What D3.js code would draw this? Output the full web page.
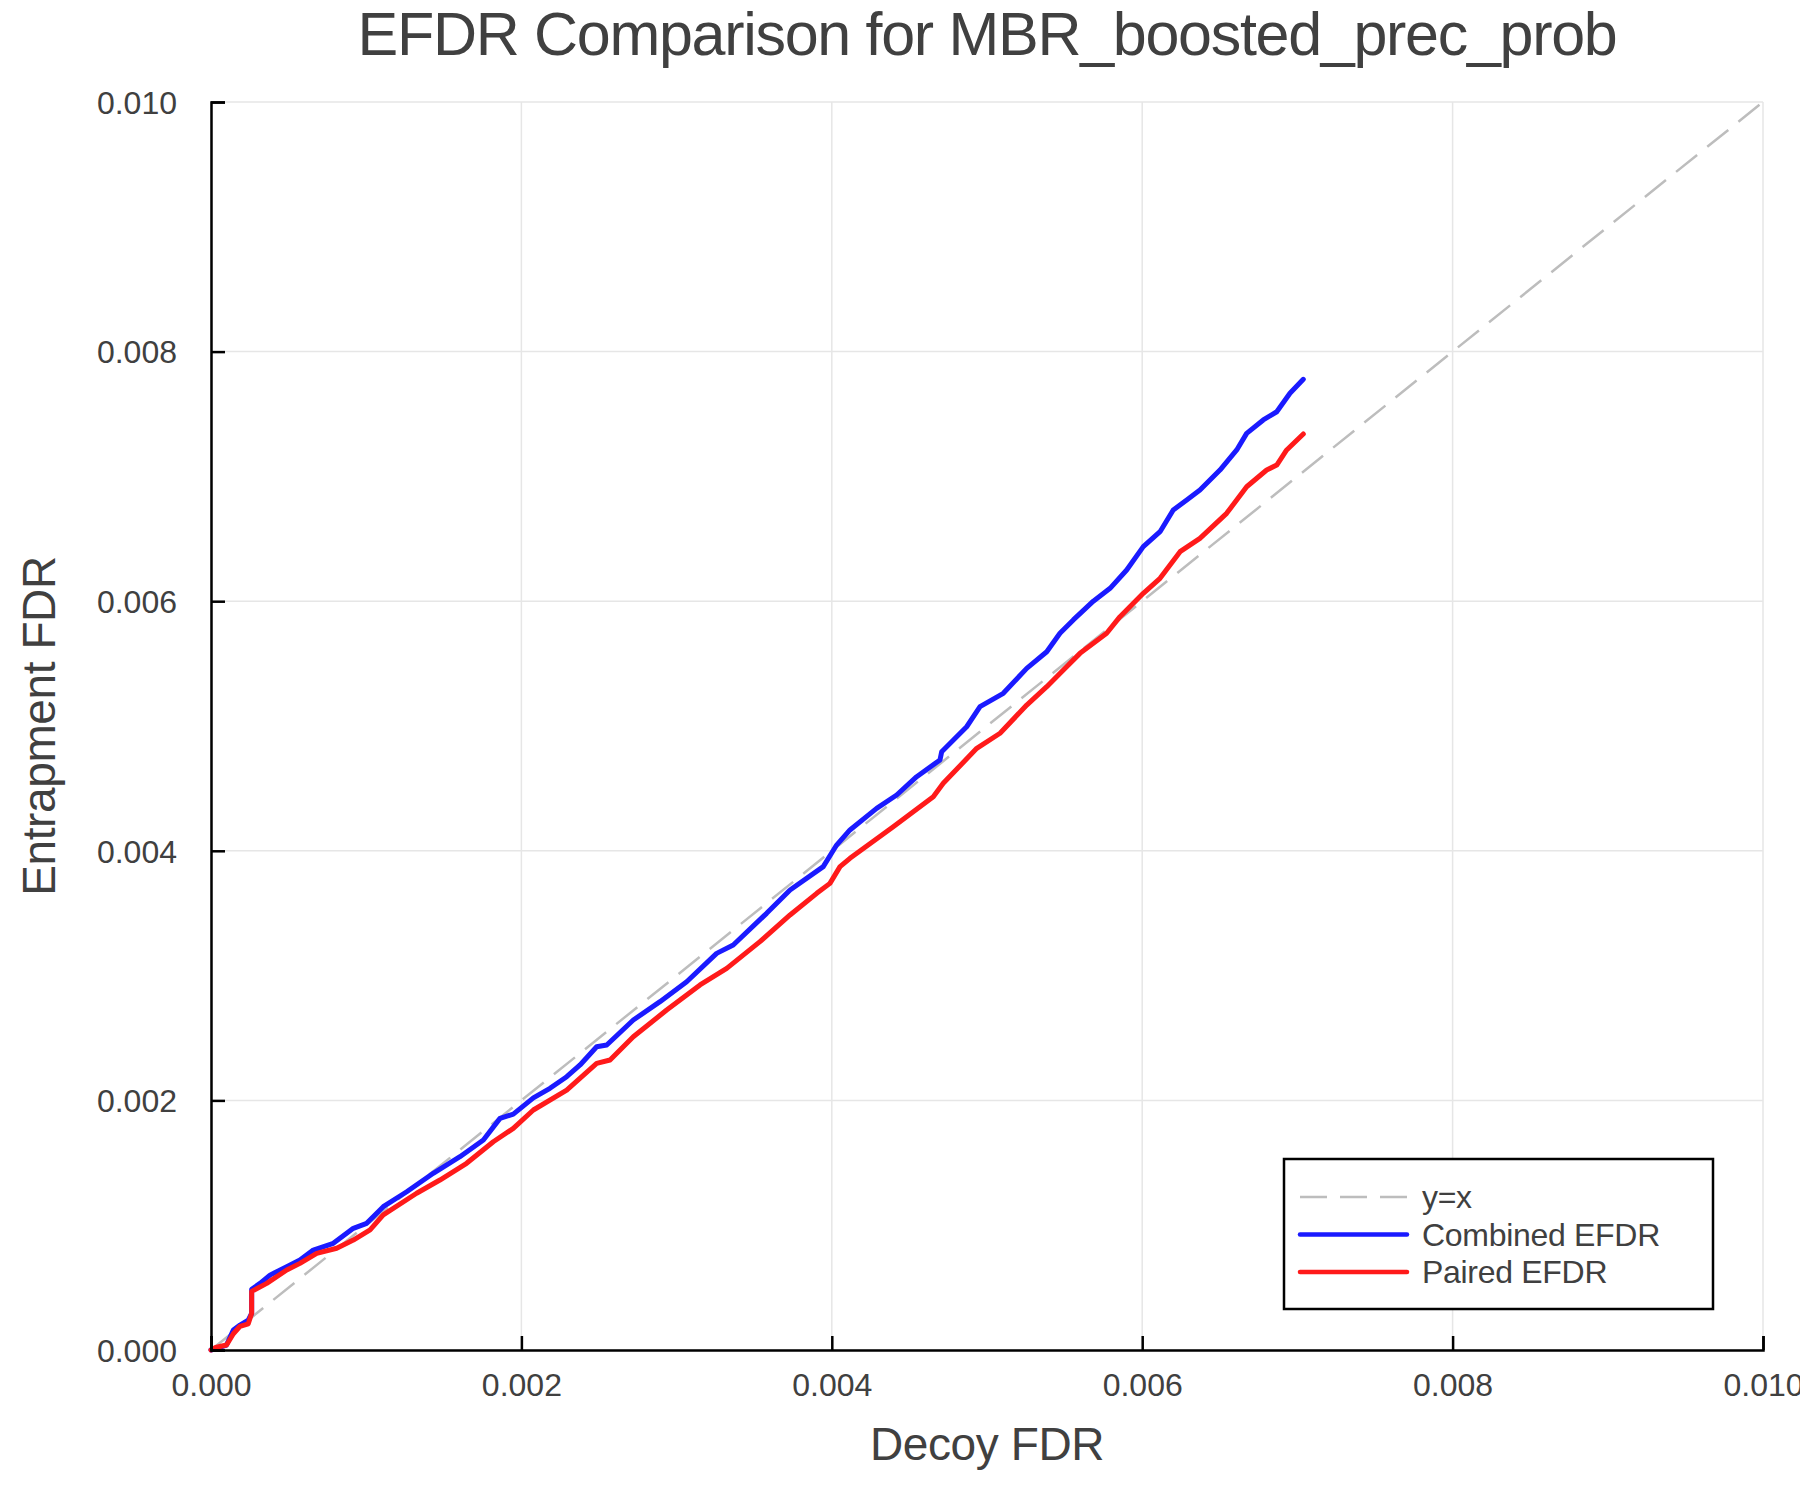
<!DOCTYPE html>
<html>
<head>
<meta charset="utf-8">
<script src="https://cdn.jsdelivr.net/npm/d3@7"></script>
<style>
  body { margin: 0; background: #fff; }
  text { font-family: 'Liberation Sans', Arial, Helvetica, sans-serif; fill: #404040; }
</style>
</head>
<body>
<div id="chart"></div>
<script>
// tick values for both axes
const ticks = [0, 0.002, 0.004, 0.006, 0.008, 0.010]

// Combined EFDR (decoy FDR, entrapment FDR)
const combinedX = [0, 0.000100, 0.000144, 0.000187, 0.000240, 0.000262, 0.000262, 0.000316, 0.000380, 0.000488,
  0.000573, 0.000659, 0.000788, 0.000917, 0.001003, 0.001110, 0.001261, 0.001432, 0.001604, 0.001755,
  0.001862, 0.001948, 0.002077, 0.002184, 0.002292, 0.002378, 0.002485, 0.002550, 0.002721, 0.002893,
  0.003065, 0.003258, 0.003365, 0.003580, 0.003731, 0.003945, 0.004031, 0.004117, 0.004289, 0.004418,
  0.004547, 0.004697, 0.004708, 0.004869, 0.004955, 0.005105, 0.005256, 0.005385, 0.005470, 0.005556,
  0.005685, 0.005793, 0.005900, 0.006007, 0.006115, 0.006200, 0.006287, 0.006372, 0.006501, 0.006609,
  0.006673, 0.006780, 0.006867, 0.006952, 0.007038]
const combinedY = [0, 0.000040, 0.000160, 0.000200, 0.000240, 0.000294, 0.000486, 0.000534, 0.000600, 0.000668,
  0.000721, 0.000801, 0.000855, 0.000975, 0.001015, 0.001148, 0.001268, 0.001416, 0.001549, 0.001683,
  0.001856, 0.001890, 0.002020, 0.002097, 0.002190, 0.002284, 0.002430, 0.002444, 0.002644, 0.002791,
  0.002951, 0.003178, 0.003245, 0.003499, 0.003686, 0.003873, 0.004046, 0.004167, 0.004340, 0.004447,
  0.004594, 0.004728, 0.004794, 0.004994, 0.005155, 0.005262, 0.005462, 0.005595, 0.005743, 0.005850,
  0.006000, 0.006103, 0.006250, 0.006437, 0.006557, 0.006731, 0.006811, 0.006891, 0.007051, 0.007212,
  0.007345, 0.007452, 0.007518, 0.007666, 0.007778]

// Paired EFDR
const pairedX = [0, 0.000030, 0.000100, 0.000144, 0.000187, 0.000240, 0.000262, 0.000262, 0.000359, 0.000488,
  0.000573, 0.000681, 0.000810, 0.000917, 0.001025, 0.001110, 0.001325, 0.001475, 0.001647, 0.001819,
  0.001948, 0.002077, 0.002292, 0.002485, 0.002571, 0.002721, 0.002936, 0.003151, 0.003323, 0.003537,
  0.003731, 0.003903, 0.003988, 0.004053, 0.004117, 0.004396, 0.004654, 0.004718, 0.004934, 0.005084,
  0.005256, 0.005385, 0.005492, 0.005599, 0.005771, 0.005857, 0.006007, 0.006115, 0.006244, 0.006372,
  0.006544, 0.006673, 0.006802, 0.006867, 0.006931, 0.007038]
const pairedY = [0, 0.000020, 0.000040, 0.000130, 0.000190, 0.000210, 0.000294, 0.000470, 0.000534, 0.000641,
  0.000694, 0.000774, 0.000815, 0.000881, 0.000962, 0.001082, 0.001256, 0.001362, 0.001496, 0.001669,
  0.001776, 0.001923, 0.002083, 0.002297, 0.002324, 0.002510, 0.002724, 0.002925, 0.003058, 0.003272,
  0.003486, 0.003659, 0.003739, 0.003873, 0.003940, 0.004193, 0.004434, 0.004541, 0.004821, 0.004942,
  0.005168, 0.005315, 0.005449, 0.005582, 0.005743, 0.005876, 0.006063, 0.006183, 0.006397, 0.006504,
  0.006704, 0.006917, 0.007051, 0.007091, 0.007212, 0.007340]

const series = [
  { name: 'Combined EFDR', color: '#1a1aff', xs: combinedX, ys: combinedY },
  { name: 'Paired EFDR', color: '#ff1a1a', xs: pairedX, ys: pairedY }
]

const W = 1800
const H = 1500
const margin = { top: 102, right: 37, bottom: 150, left: 211 }
const width = W - margin.left - margin.right
const height = H - margin.top - margin.bottom

const svg = d3.select('#chart')
  .append('svg')
  .attr('width', W)
  .attr('height', H)

const g = svg.append('g')
  .attr('transform', `translate(${margin.left}, ${margin.top})`)

const x = d3.scaleLinear().domain([0, 0.010]).range([0, width])
const y = d3.scaleLinear().domain([0, 0.010]).range([height, 0])

// grid lines
g.append('g')
  .selectAll('line')
  .data(ticks)
  .join('line')
  .attr('x1', d => x(d)).attr('x2', d => x(d))
  .attr('y1', 0).attr('y2', height)
  .attr('stroke', '#e6e6e6').attr('stroke-width', 1.5)
g.append('g')
  .selectAll('line')
  .data(ticks)
  .join('line')
  .attr('x1', 0).attr('x2', width)
  .attr('y1', d => y(d)).attr('y2', d => y(d))
  .attr('stroke', '#e6e6e6').attr('stroke-width', 1.5)

// y = x reference
g.append('line')
  .attr('x1', x(0)).attr('y1', y(0))
  .attr('x2', x(0.010)).attr('y2', y(0.010))
  .attr('stroke', '#bdbdbd')
  .attr('stroke-width', 2.5)
  .attr('stroke-dasharray', '27 13')

const line = d3.line()
  .x(d => x(d[0]))
  .y(d => y(d[1]))

series.forEach(s => {
  g.append('path')
    .datum(s.xs.map((v, i) => [v, s.ys[i]]))
    .attr('d', line)
    .attr('fill', 'none')
    .attr('stroke', s.color)
    .attr('stroke-width', 5)
    .attr('stroke-linejoin', 'round')
    .attr('stroke-linecap', 'round')
})

// axes: inward ticks, labels at the outside
const xAxis = g.append('g')
  .attr('transform', `translate(0, ${height})`)
  .call(d3.axisBottom(x).tickValues(ticks).tickSize(-14).tickPadding(0).tickFormat(d3.format('.3f')))
xAxis.select('.domain').attr('stroke', '#000').attr('stroke-width', 2.5)
xAxis.selectAll('.tick line').attr('stroke', '#000').attr('stroke-width', 2.5)
xAxis.selectAll('.tick text')
  .attr('y', 46)
  .attr('dy', null)
  .style('font-size', '32px')
  .attr('fill', '#404040')

const yAxis = g.append('g')
  .call(d3.axisLeft(y).tickValues(ticks).tickSize(-14).tickPadding(0).tickFormat(d3.format('.3f')))
yAxis.select('.domain').attr('stroke', '#000').attr('stroke-width', 2.5)
yAxis.selectAll('.tick line').attr('stroke', '#000').attr('stroke-width', 2.5)
yAxis.selectAll('.tick text')
  .attr('x', -34)
  .attr('dy', '0.35em')
  .style('font-size', '32px')
  .attr('fill', '#404040')

// title and axis labels
svg.append('text')
  .attr('x', margin.left + width / 2)
  .attr('y', 55)
  .attr('text-anchor', 'middle')
  .style('font-size', '61px')
  .style('letter-spacing', '-1.3px')
  .text('EFDR Comparison for MBR_boosted_prec_prob')

svg.append('text')
  .attr('x', margin.left + width / 2)
  .attr('y', 1460)
  .attr('text-anchor', 'middle')
  .style('font-size', '46px')
  .style('letter-spacing', '-0.4px')
  .text('Decoy FDR')

svg.append('text')
  .attr('transform', `translate(55, ${margin.top + height / 2}) rotate(-90)`)
  .attr('text-anchor', 'middle')
  .style('font-size', '46px')
  .style('letter-spacing', '-0.4px')
  .text('Entrapment FDR')

// legend
const legendItems = [
  { name: 'y=x', color: '#bdbdbd', dash: '27 13', w: 2.5 },
  { name: 'Combined EFDR', color: '#1a1aff', dash: null, w: 4.5 },
  { name: 'Paired EFDR', color: '#ff1a1a', dash: null, w: 4.5 }
]
const legend = svg.append('g').attr('transform', 'translate(1284, 1159)')
legend.append('rect')
  .attr('width', 429).attr('height', 150)
  .attr('fill', '#fff')
  .attr('stroke', '#000').attr('stroke-width', 2.5)
legendItems.forEach((d, i) => {
  const cy = 38 + i * 37.5
  legend.append('line')
    .attr('x1', 16).attr('x2', 123)
    .attr('y1', cy).attr('y2', cy)
    .attr('stroke', d.color)
    .attr('stroke-width', d.w)
    .attr('stroke-dasharray', d.dash)
    .attr('stroke-linecap', d.dash ? 'butt' : 'round')
  legend.append('text')
    .attr('x', 138).attr('y', cy)
    .attr('dy', '0.35em')
    .style('font-size', '32px')
    .style('letter-spacing', '-0.3px')
    .text(d.name)
})
</script>
</body>
</html>
